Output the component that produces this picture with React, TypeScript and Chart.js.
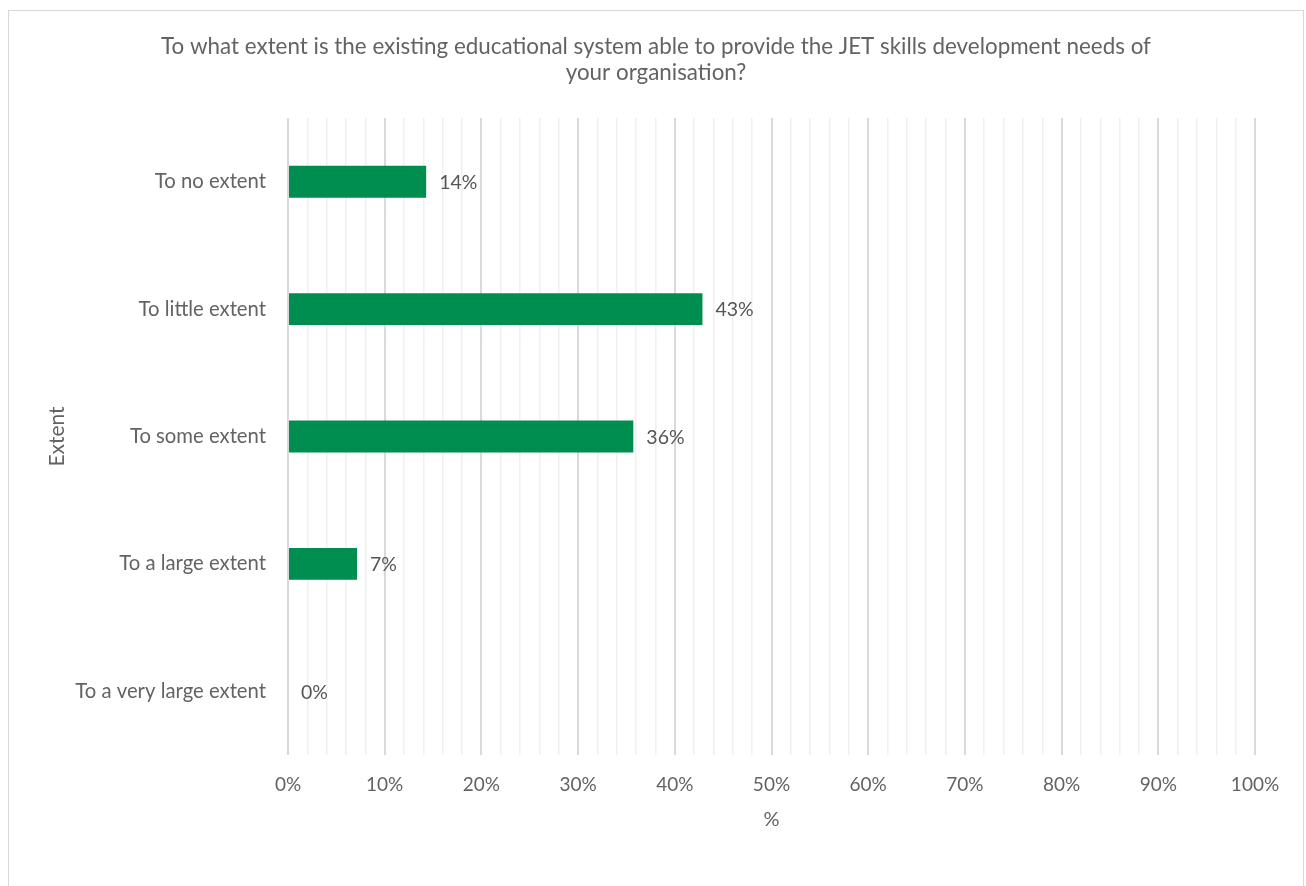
import React, { useEffect, useRef } from "react";
import { Chart, registerables } from "chart.js";

Chart.register(...registerables);

const titleLines = [
  "To what extent is the existing educational system able to provide the JET skills development needs of",
  "your organisation?",
];
const categories = [
  "To no extent",
  "To little extent",
  "To some extent",
  "To a large extent",
  "To a very large extent",
];
const values = [14.29, 42.86, 35.71, 7.14, 0];
const valueLabels = ["14%", "43%", "36%", "7%", "0%"];
const xAxisTitle = "%";
const yAxisTitle = "Extent";

const FONT = "Lato, 'Noto Sans', sans-serif";
const TEXT = "#636363";

export default function App() {
  const ref = useRef<HTMLCanvasElement | null>(null);
  useEffect(() => {
    document.body.style.margin = "0";
    const canvas = ref.current!;
    const borderPlugin = {
      id: "border",
      beforeDraw(chart: any) {
        const c = chart.ctx;
        c.save();
        c.fillStyle = "#ffffff";
        c.fillRect(0, 0, chart.width, chart.height);
        c.strokeStyle = "#d9d9d9";
        c.lineWidth = 1;
        c.strokeRect(8.5, 10.5, 1295, 900);
        c.restore();
      },
    };
    const titlePlugin = {
      id: "customTitle",
      afterDraw(chart: any) {
        const c = chart.ctx;
        c.save();
        c.font = `22.4px ${FONT}`;
        c.fillStyle = TEXT;
        c.textAlign = "center";
        c.textBaseline = "middle";
        titleLines.forEach((line, i) => {
          c.fillText(line, 656, 47 + i * 26);
        });
        c.restore();
      },
    };
    const labelPlugin = {
      id: "valueLabels",
      afterDatasetsDraw(chart: any) {
        const c = chart.ctx;
        const meta = chart.getDatasetMeta(0);
        c.save();
        c.font = `19.5px ${FONT}`;
        c.fillStyle = "#555555";
        c.textAlign = "left";
        c.textBaseline = "middle";
        meta.data.forEach((bar: any, i: number) => {
          c.fillText(valueLabels[i], bar.x + 13, bar.y + 1);
        });
        c.restore();
      },
    };
    const chart = new Chart(canvas, {
      type: "bar",
      data: {
        labels: categories,
        datasets: [
          {
            data: values,
            backgroundColor: "#008D50",
            borderWidth: 0,
            barPercentage: 0.25,
            categoryPercentage: 1,
          },
        ],
      },
      options: {
        indexAxis: "y",
        responsive: false,
        animation: false,
        layout: { padding: { left: 0, right: 51, top: 118, bottom: 0 } },
        plugins: {
          legend: { display: false },
          tooltip: { enabled: false },
          title: { display: false },
        },
        scales: {
          x: {
            min: 0,
            max: 100,
            border: { display: false },
            grid: {
              drawTicks: false,
              color: (ctx: any) =>
                ctx.tick && Math.round(ctx.tick.value) % 10 === 0 ? "#d9d9d9" : "#f0f0f0",
              lineWidth: (ctx: any) =>
                ctx.tick && Math.round(ctx.tick.value) % 10 === 0 ? 2 : 1.5,
            },
            ticks: {
              stepSize: 2,
              autoSkip: false,
              maxRotation: 0,
              padding: 18,
              color: TEXT,
              font: { family: FONT, size: 19 },
              callback: (v: any) => (Math.round(Number(v)) % 10 === 0 ? `${v}%` : ""),
            },
            title: {
              display: true,
              text: xAxisTitle,
              color: TEXT,
              font: { family: FONT, size: 20 },
              padding: { top: 0, bottom: 54 },
            },
            afterFit: (scale: any) => {
              scale.height = 131;
            },
          },
          y: {
            border: { display: false },
            grid: { display: false, drawTicks: false },
            ticks: {
              padding: 22,
              color: TEXT,
              font: { family: FONT, size: 20.3 },
            },
            title: {
              display: true,
              text: yAxisTitle,
              color: TEXT,
              font: { family: FONT, size: 21 },
              padding: { top: 45, bottom: 0 },
            },
            afterFit: (scale: any) => {
              scale.width = 288;
            },
          },
        },
      },
      plugins: [borderPlugin, labelPlugin, titlePlugin],
    });
    return () => chart.destroy();
  }, []);
  return (
    <canvas ref={ref} width={1306} height={886} style={{ display: "block", width: 1306, height: 886 }} />
  );
}
